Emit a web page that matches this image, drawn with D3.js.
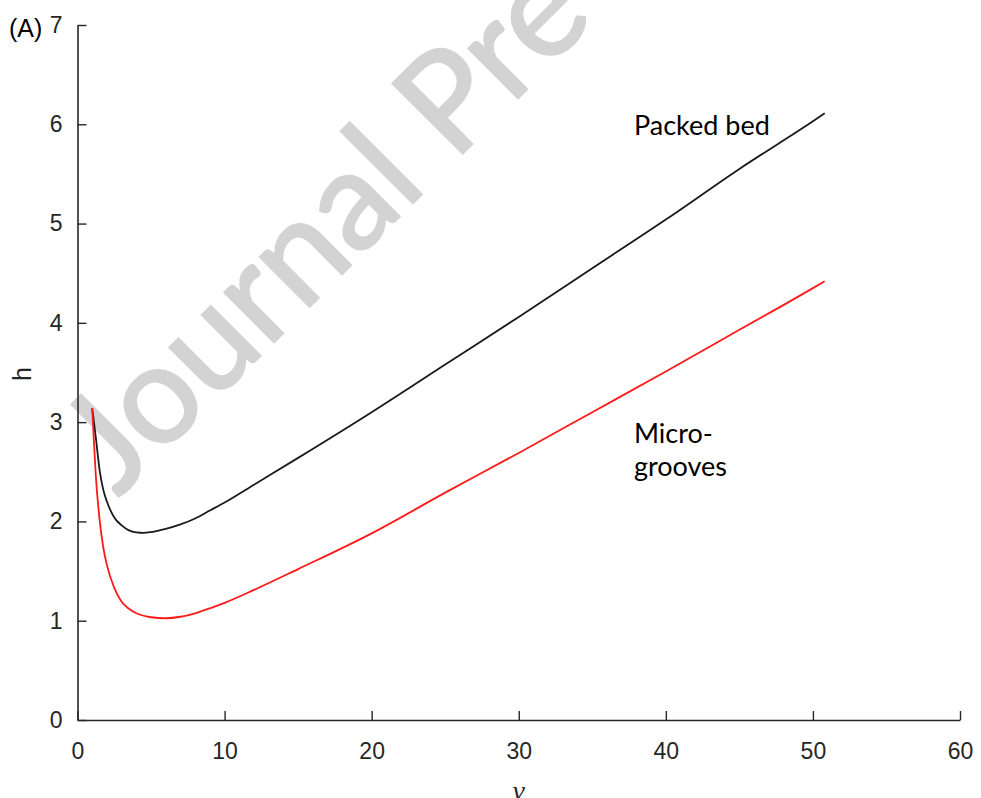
<!DOCTYPE html>
<html>
<head>
<meta charset="utf-8">
<script src="https://cdn.jsdelivr.net/npm/d3@7"></script>
<style>
  html, body { margin: 0; padding: 0; background: #fff; }
  svg { display: block; }
</style>
</head>
<body>
<svg id="chart" width="981" height="798"></svg>
<script>
// ---- data ----
const nu = [1, 1.1, 1.25, 1.5, 1.75, 2, 2.5, 3, 3.5, 4, 4.5, 5, 6, 7, 8, 9, 10, 12, 15, 20, 25, 30, 35, 40, 45, 50, 50.8];
const packedBed = [3.14, 3.02, 2.84, 2.52, 2.32, 2.20, 2.04, 1.96, 1.91, 1.89, 1.885, 1.893, 1.925, 1.97, 2.03, 2.11, 2.19, 2.37, 2.64, 3.10, 3.58, 4.06, 4.55, 5.04, 5.55, 6.03, 6.11];
const microGrooves = [3.14, 2.85, 2.45, 2.02, 1.74, 1.56, 1.33, 1.19, 1.12, 1.075, 1.05, 1.035, 1.025, 1.04, 1.075, 1.125, 1.18, 1.31, 1.52, 1.88, 2.29, 2.69, 3.10, 3.51, 3.93, 4.35, 4.42];
const xTicks = [0, 10, 20, 30, 40, 50, 60];
const yTicks = [0, 1, 2, 3, 4, 5, 6, 7];
const seriesNames = ["Packed bed", "Micro-grooves"];

const svg = d3.select("#chart");
const axisColor = "#262626";
const tickFont = "'Liberation Sans', Arial, sans-serif";
const labelFont = "Lato, 'Open Sans', sans-serif";

const x = d3.scaleLinear().domain([0, 60]).range([77.5, 960]);
const y = d3.scaleLinear().domain([0, 7]).range([720, 25]);

// watermark
svg.append("text")
  .attr("transform", "translate(118,498) rotate(-45)")
  .attr("font-family", labelFont)
  .attr("font-size", 138)
  .attr("fill", "#d3d3d3")
  .attr("stroke", "#d3d3d3")
  .attr("stroke-width", 2.5)
  .text("Journal Pre-proof");

// axes
const xAxis = d3.axisBottom(x).tickValues(xTicks).tickFormat(d3.format("d"))
  .tickSizeInner(-9).tickSizeOuter(0).tickPadding(23);
const yAxis = d3.axisLeft(y).tickValues(yTicks).tickFormat(d3.format("d"))
  .tickSizeInner(-9).tickSizeOuter(0).tickPadding(15);

const gx = svg.append("g").attr("transform", `translate(0,${y(0)})`).call(xAxis);
const gy = svg.append("g").attr("transform", `translate(${x(0)},0)`).call(yAxis);
[gx, gy].forEach(g => {
  g.attr("font-family", tickFont).attr("font-size", 23);
  g.select(".domain").attr("stroke", axisColor).attr("stroke-width", 1.6);
  g.selectAll(".tick line").attr("stroke", axisColor).attr("stroke-width", 1.4);
  g.selectAll(".tick text").attr("fill", axisColor);
});

// lines
const line = d3.line().x((d, i) => x(nu[i])).y(d => y(d)).curve(d3.curveMonotoneX);
svg.append("path").datum(packedBed).attr("d", line)
  .attr("fill", "none").attr("stroke", "#1a1a1a").attr("stroke-width", 1.8);
svg.append("path").datum(microGrooves).attr("d", line)
  .attr("fill", "none").attr("stroke", "#ff1a1a").attr("stroke-width", 1.8);

// labels
svg.append("text").attr("x", 634).attr("y", 135)
  .attr("font-family", labelFont).attr("font-size", 27).attr("fill", "#000")
  .text(seriesNames[0]);
const mg = svg.append("text").attr("font-family", labelFont).attr("font-size", 27).attr("fill", "#000");
mg.append("tspan").attr("x", 634).attr("y", 443).text("Micro-");
mg.append("tspan").attr("x", 634).attr("y", 476).text("grooves");

svg.append("text").attr("x", 9).attr("y", 37)
  .attr("font-family", tickFont).attr("font-size", 25).attr("fill", "#000").text("(A)");

svg.append("text")
  .attr("transform", "translate(31,374) rotate(-90)")
  .attr("text-anchor", "middle")
  .attr("font-family", tickFont).attr("font-size", 25).attr("fill", axisColor).text("h");

svg.append("text").attr("x", x(30)).attr("y", 800)
  .attr("text-anchor", "middle")
  .attr("font-family", "'Liberation Serif', 'DejaVu Serif', serif").attr("font-style", "italic")
  .attr("font-size", 28).attr("fill", axisColor).text("ν");
</script>
</body>
</html>
